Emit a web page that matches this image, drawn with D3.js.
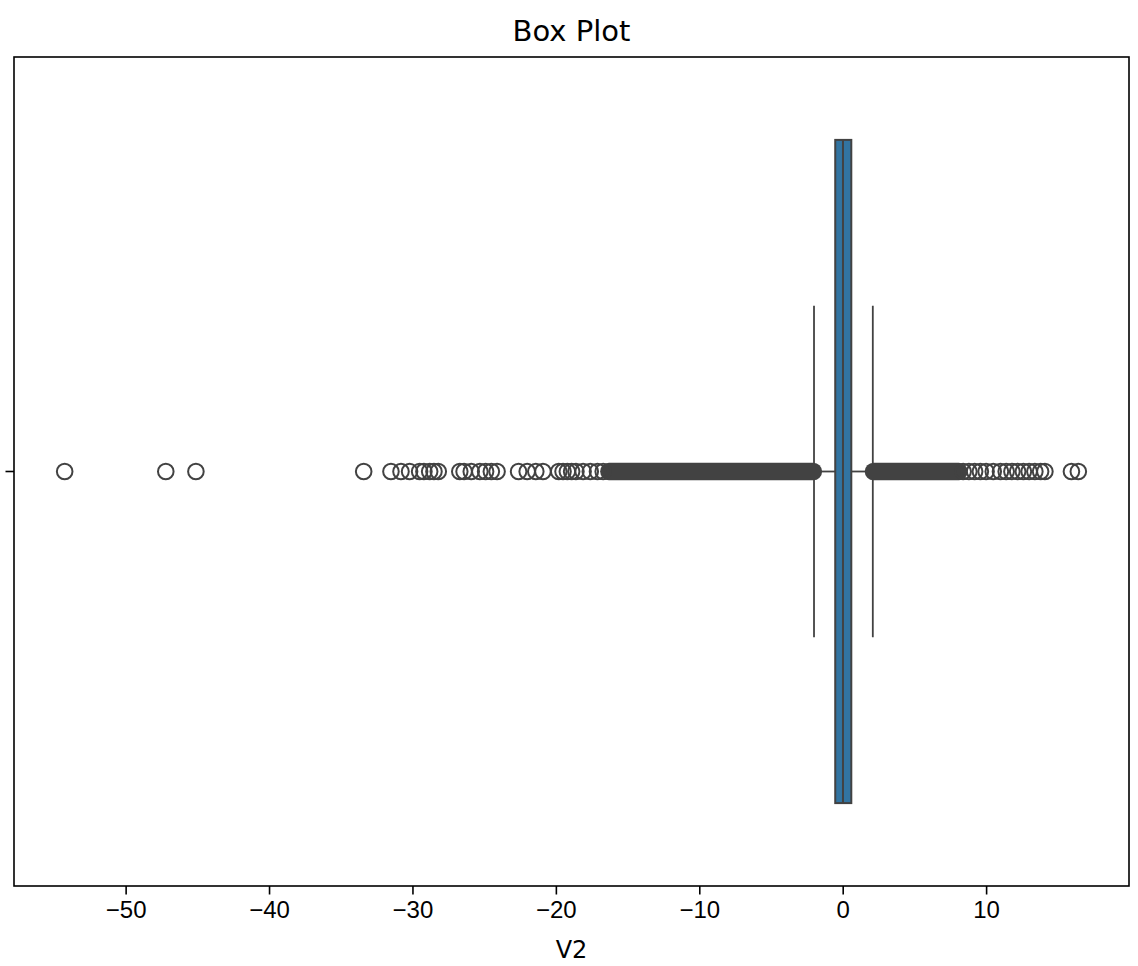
<!DOCTYPE html>
<html>
<head>
<meta charset="utf-8">
<script src="https://cdn.jsdelivr.net/npm/d3@7"></script>
<style>
  body { margin: 0; background: #fff; }
  svg { font-family: "DejaVu Sans", sans-serif; }
</style>
</head>
<body>
<div class="vis-box"></div>
<script>
// box statistics for V2
const variable = 'V2';
const boxStats = { q1: -0.52, median: 0.02, q3: 0.6, whiskerLow: -2.0, whiskerHigh: 2.1 };

// ranges where fliers overlap into a solid band
const lowBand = [-16.3, -2.05];
const highBand = [2.15, 8.1];

// single fliers that can be told apart
const lowOutliers = [-54.25, -47.2, -45.1, -33.4, -31.5, -30.8, -30.2, -29.5, -29.2, -28.8, -28.5, -28.2,
    -26.7, -26.4, -25.9, -25.3, -24.9, -24.5, -24.1, -22.6, -22.0, -21.4, -20.9,
    -19.8, -19.5, -19.2, -18.9, -18.6, -18.1, -17.6, -17.1, -16.7];
const highOutliers = [8.4, 8.8, 9.2, 9.6, 10.0, 10.5, 11.0, 11.4, 11.8, 12.2, 12.6, 13.0, 13.4, 13.8, 14.1, 15.95, 16.43];

const xTicks = [-50, -40, -30, -20, -10, 0, 10];

const W = 1138, H = 966;
const margin = { top: 57, right: 9, bottom: 80, left: 14 };
const width = W - margin.left - margin.right;
const height = H - margin.top - margin.bottom;

const edge = '#424242';
const boxFill = '#3274a1';
const r = 7.8;

const svg = d3.select('.vis-box')
    .append('svg')
    .attr('width', W)
    .attr('height', H);

const g = svg.append('g')
    .attr('transform', 'translate(' + margin.left + ',' + margin.top + ')');

// x extent from the data with 5% padding, like matplotlib
const all = lowOutliers.concat(highOutliers);
const lo = d3.min(all), hi = d3.max(all);
const pad = (hi - lo) * 0.05;
const x = d3.scaleLinear().domain([lo - pad, hi + pad]).range([0, width]);
const y = d3.scaleLinear().domain([-0.5, 0.5]).range([0, height]);

const cy = y(0);

// whiskers
g.append('line')
    .attr('x1', x(boxStats.whiskerLow)).attr('x2', x(boxStats.q1))
    .attr('y1', cy).attr('y2', cy)
    .attr('stroke', edge).attr('stroke-width', 1.8);
g.append('line')
    .attr('x1', x(boxStats.q3)).attr('x2', x(boxStats.whiskerHigh))
    .attr('y1', cy).attr('y2', cy)
    .attr('stroke', edge).attr('stroke-width', 1.8);

// caps
[boxStats.whiskerLow, boxStats.whiskerHigh].forEach(v => {
    g.append('line')
        .attr('x1', x(v)).attr('x2', x(v))
        .attr('y1', y(-0.2)).attr('y2', y(0.2))
        .attr('stroke', edge).attr('stroke-width', 1.8);
});

// dense flier bands
[lowBand, highBand].forEach(b => {
    g.append('line')
        .attr('x1', x(b[0])).attr('x2', x(b[1]))
        .attr('y1', cy).attr('y2', cy)
        .attr('stroke', edge)
        .attr('stroke-width', 2 * r + 2)
        .attr('stroke-linecap', 'round');
});

// single fliers
g.selectAll('circle.flier')
    .data(all)
    .enter()
    .append('circle')
    .attr('class', 'flier')
    .attr('cx', d => x(d))
    .attr('cy', cy)
    .attr('r', r)
    .attr('fill', 'none')
    .attr('stroke', edge)
    .attr('stroke-width', 2);

// box
g.append('rect')
    .attr('x', x(boxStats.q1))
    .attr('y', y(-0.4))
    .attr('width', x(boxStats.q3) - x(boxStats.q1))
    .attr('height', y(0.4) - y(-0.4))
    .attr('fill', boxFill)
    .attr('stroke', edge)
    .attr('stroke-width', 2);

// median
g.append('line')
    .attr('x1', x(boxStats.median)).attr('x2', x(boxStats.median))
    .attr('y1', y(-0.4)).attr('y2', y(0.4))
    .attr('stroke', edge).attr('stroke-width', 2);

// frame
g.append('rect')
    .attr('width', width).attr('height', height)
    .attr('fill', 'none')
    .attr('stroke', '#000')
    .attr('stroke-width', 1.6);

// x axis
const xAxis = g.append('g')
    .attr('transform', 'translate(0,' + height + ')')
    .call(d3.axisBottom(x)
        .tickValues(xTicks)
        .tickSize(8.5)
        .tickPadding(6)
        .tickFormat(d => (d < 0 ? '\u2212' + Math.abs(d) : d)));
xAxis.select('.domain').remove();
xAxis.selectAll('line').attr('stroke', '#000').attr('stroke-width', 1.6);
xAxis.selectAll('text').attr('font-size', 24).attr('fill', '#000');

// y axis: single unlabeled category tick
g.append('line')
    .attr('x1', -8.5).attr('x2', 0)
    .attr('y1', cy).attr('y2', cy)
    .attr('stroke', '#000').attr('stroke-width', 1.6);

// x label
svg.append('text')
    .attr('x', margin.left + width / 2)
    .attr('y', 958)
    .attr('text-anchor', 'middle')
    .attr('font-size', 24)
    .text(variable);

// title
svg.append('text')
    .attr('x', margin.left + width / 2)
    .attr('y', 41)
    .attr('text-anchor', 'middle')
    .attr('font-size', 29)
    .text('Box Plot');
</script>
</body>
</html>
